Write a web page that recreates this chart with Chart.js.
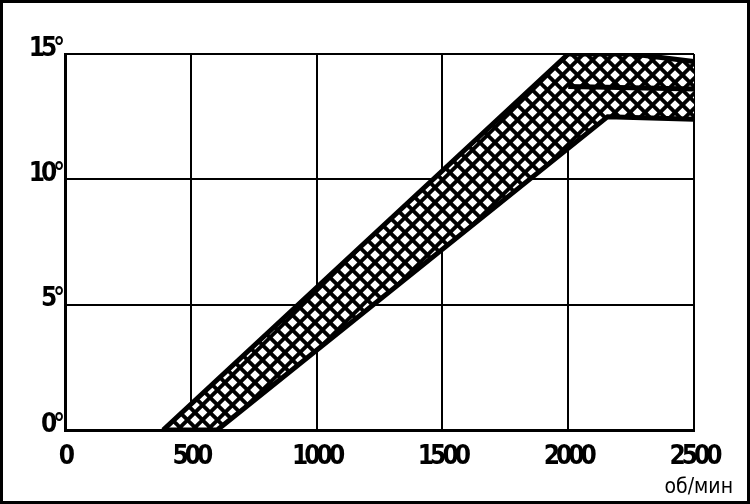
<!DOCTYPE html>
<html>
<head>
<meta charset="utf-8">
<script src="https://cdn.jsdelivr.net/npm/chart.js@4.4.0/dist/chart.umd.min.js"></script>
<style>
  html, body { margin: 0; padding: 0; background: #fff; }
  #wrap { position: relative; width: 750px; height: 504px; }
  #frame { position: absolute; left: 0; top: 0; width: 750px; height: 504px; box-sizing: border-box; border: 3px solid #000; pointer-events: none; }
</style>
</head>
<body>
<div id="wrap">
  <canvas id="angleChart" width="750" height="504"></canvas>
  <div id="frame"></div>
</div>
<script>
// rpm (x) and advance angle in degrees (y)
const upperRpm = [390, 2000, 2255, 2500];
const upperDeg = [0, 15, 15, 14.7];
const lowerRpm = [390, 605, 2157, 2500];
const lowerDeg = [0, 0, 12.5, 12.4];
const middleRpm = [2000, 2500];
const middleDeg = [13.7, 13.6];
const xTicks = [0, 500, 1000, 1500, 2000, 2500];
const yTicks = [0, 5, 10, 15];
const unitLabel = 'об/мин';

const toPoints = (xs, ys) => xs.map((x, i) => ({ x: x, y: ys[i] }));

// cross-hatch fill: black with white diamond holes
function makeHatch() {
  const s = 15, r = 4.8;
  const c = document.createElement('canvas');
  c.width = s; c.height = s;
  const g = c.getContext('2d');
  g.fillStyle = '#000';
  g.fillRect(0, 0, s, s);
  g.fillStyle = '#fff';
  const hole = (cx, cy) => {
    g.beginPath();
    g.moveTo(cx, cy - r); g.lineTo(cx + r, cy); g.lineTo(cx, cy + r); g.lineTo(cx - r, cy);
    g.closePath(); g.fill();
  };
  [[0, 0], [s, 0], [0, s], [s, s], [s / 2, s / 2]].forEach(p => hole(p[0], p[1]));
  return g.createPattern(c, 'repeat');
}

const tickFont = { family: "'DejaVu Sans Condensed', 'Liberation Sans Narrow', sans-serif", size: 26, weight: 'bold' };

// squeeze the tick digits together like the printed original, then write the unit
const condensed = {
  id: 'condensed',
  beforeDraw(chart) { chart.ctx.letterSpacing = '-4px'; },
  afterDraw(chart) {
    const c = chart.ctx;
    c.letterSpacing = '0px';
    c.save();
    c.font = "21px 'DejaVu Sans Condensed', 'DejaVu Sans', sans-serif";
    c.fillStyle = '#000';
    c.textAlign = 'right';
    c.textBaseline = 'alphabetic';
    c.fillText(unitLabel, chart.scales.x.right + 39, 493);
    c.restore();
  }
};

const ctx = document.getElementById('angleChart').getContext('2d');
new Chart(ctx, {
  type: 'line',
  data: {
    datasets: [
      {
        data: toPoints(upperRpm, upperDeg),
        borderColor: '#000',
        borderWidth: 5,
        pointRadius: 0,
        fill: false,
        order: 1
      },
      {
        data: toPoints(lowerRpm, lowerDeg),
        borderColor: '#000',
        borderWidth: 5,
        pointRadius: 0,
        backgroundColor: makeHatch(),
        fill: '-1',
        order: 2
      },
      {
        data: toPoints(middleRpm, middleDeg),
        borderColor: '#000',
        borderWidth: 5,
        pointRadius: 0,
        fill: false,
        order: 0
      }
    ]
  },
  plugins: [condensed],
  options: {
    responsive: false,
    animation: false,
    layout: { padding: { left: 0, right: 56, top: 54, bottom: 0 } },
    plugins: { legend: { display: false }, tooltip: { enabled: false } },
    scales: {
      x: {
        type: 'linear',
        min: 0,
        max: 2500,
        afterBuildTicks: s => { s.ticks = xTicks.map(v => ({ value: v })); },
        grid: { color: '#000', lineWidth: 2, drawTicks: false },
        border: { color: '#000', width: 3 },
        ticks: { color: '#000', font: tickFont, padding: 12, maxRotation: 0, callback: v => String(v) },
        afterFit: s => { s.height = 74; }
      },
      y: {
        min: 0,
        max: 15,
        afterBuildTicks: s => { s.ticks = yTicks.map(v => ({ value: v })); },
        grid: { color: '#000', lineWidth: 2, drawTicks: false },
        border: { color: '#000', width: 3 },
        ticks: { color: '#000', font: tickFont, padding: 4, labelOffset: -5, callback: v => v + '°' },
        afterFit: s => { s.width = 65; }
      }
    }
  }
});
</script>
</body>
</html>
